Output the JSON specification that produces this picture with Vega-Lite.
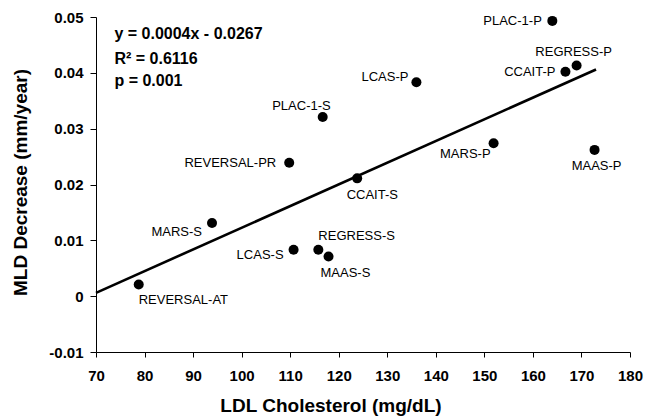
{
  "$schema": "https://vega.github.io/schema/vega-lite/v6.json",
  "width": 534,
  "height": 335,
  "autosize": {"type": "none"},
  "padding": {"left": 96, "top": 17, "right": 15, "bottom": 64},
  "background": "white",
  "config": {
    "view": {"stroke": null},
    "font": "Liberation Sans",
    "axis": {
      "grid": false,
      "domainColor": "#000000",
      "domainWidth": 1,
      "tickColor": "#000000",
      "tickWidth": 1,
      "labelFont": "Liberation Sans",
      "labelFontWeight": "bold",
      "labelFontSize": 15,
      "labelColor": "#000000",
      "titleFont": "Liberation Sans",
      "titleFontWeight": "bold",
      "titleFontSize": 19,
      "titleColor": "#000000"
    }
  },
  "datasets": {
    "studies": [
      {"study": "REVERSAL-AT", "ldl": 78.8, "mld": 0.0021},
      {"study": "MARS-S", "ldl": 93.9, "mld": 0.0131},
      {"study": "LCAS-S", "ldl": 110.7, "mld": 0.0083},
      {"study": "REGRESS-S", "ldl": 115.8, "mld": 0.0083},
      {"study": "MAAS-S", "ldl": 117.9, "mld": 0.0071},
      {"study": "PLAC-1-S", "ldl": 116.7, "mld": 0.0321},
      {"study": "REVERSAL-PR", "ldl": 109.8, "mld": 0.0239},
      {"study": "CCAIT-S", "ldl": 123.8, "mld": 0.0211},
      {"study": "LCAS-P", "ldl": 136.0, "mld": 0.0383},
      {"study": "MARS-P", "ldl": 151.9, "mld": 0.0274},
      {"study": "PLAC-1-P", "ldl": 164.0, "mld": 0.0493},
      {"study": "CCAIT-P", "ldl": 166.7, "mld": 0.0402},
      {"study": "REGRESS-P", "ldl": 169.0, "mld": 0.0413},
      {"study": "MAAS-P", "ldl": 172.7, "mld": 0.0262}
    ],
    "fit": [
      {"ldl": 70, "mld": 0.0006},
      {"ldl": 173, "mld": 0.0406}
    ],
    "stats": [
      {"label": "y = 0.0004x - 0.0267", "ldl": 73.8, "mld": 0.0469},
      {"label": "R² = 0.6116", "ldl": 73.8, "mld": 0.0424},
      {"label": "p = 0.001", "ldl": 73.8, "mld": 0.0386}
    ]
  },
  "encoding": {
    "x": {
      "field": "ldl", "type": "quantitative",
      "scale": {"domain": [70, 180], "nice": false, "zero": false},
      "axis": {
        "title": "LDL Cholesterol (mg/dL)",
        "values": [70, 80, 90, 100, 110, 120, 130, 140, 150, 160, 170, 180],
        "tickSize": 5,
        "labelPadding": 11,
        "labelFlush": false,
        "labelOverlap": false,
        "titleX": 234.5,
        "titleY": 59.5,
        "titleAnchor": null,
        "titleAlign": "center",
        "titleBaseline": "alphabetic"
      }
    },
    "y": {
      "field": "mld", "type": "quantitative",
      "scale": {"domain": [-0.01, 0.05], "nice": false, "zero": false},
      "axis": {
        "title": "MLD Decrease (mm/year)",
        "values": [-0.01, 0, 0.01, 0.02, 0.03, 0.04, 0.05],
        "labelExpr": "datum.value === 0 ? '0' : (datum.value < 0 ? '-' + format(-datum.value, '.2f') : format(datum.value, '.2f'))",
        "tickSize": 6,
        "labelPadding": 7,
        "labelFlush": false,
        "labelOverlap": false,
        "titleX": -76,
        "titleY": 165,
        "titleAngle": -90,
        "titleAlign": "center",
        "titleBaseline": "middle"
      }
    }
  },
  "layer": [
    {
      "data": {"name": "fit"},
      "mark": {"type": "line", "color": "#000000", "strokeWidth": 2.6},
      "encoding": {}
    },
    {
      "data": {"name": "studies"},
      "mark": {"type": "circle", "color": "#000000", "opacity": 1, "size": 100}
    },
    {
      "data": {"name": "stats"},
      "mark": {"type": "text", "align": "left", "baseline": "middle", "fontSize": 16, "fontWeight": "bold", "font": "Liberation Sans", "color": "#000000"},
      "encoding": {"text": {"field": "label"}}
    },
    {
      "data": {"name": "studies"},
      "transform": [{"filter": "datum.study === 'PLAC-1-P'"}],
      "mark": {"type": "text", "align": "right", "baseline": "middle", "dx": -10.5, "dy": 0, "fontSize": 13, "color": "#000000"},
      "encoding": {"text": {"field": "study"}}
    },
    {
      "data": {"name": "studies"},
      "transform": [{"filter": "datum.study === 'REGRESS-P'"}],
      "mark": {"type": "text", "align": "center", "baseline": "middle", "dx": -3, "dy": -14, "fontSize": 13, "color": "#000000"},
      "encoding": {"text": {"field": "study"}}
    },
    {
      "data": {"name": "studies"},
      "transform": [{"filter": "datum.study === 'CCAIT-P'"}],
      "mark": {"type": "text", "align": "right", "baseline": "middle", "dx": -10, "dy": 0, "fontSize": 13, "color": "#000000"},
      "encoding": {"text": {"field": "study"}}
    },
    {
      "data": {"name": "studies"},
      "transform": [{"filter": "datum.study === 'LCAS-P'"}],
      "mark": {"type": "text", "align": "right", "baseline": "middle", "dx": -8, "dy": -5, "fontSize": 13, "color": "#000000"},
      "encoding": {"text": {"field": "study"}}
    },
    {
      "data": {"name": "studies"},
      "transform": [{"filter": "datum.study === 'MARS-P'"}],
      "mark": {"type": "text", "align": "right", "baseline": "middle", "dx": -3, "dy": 11, "fontSize": 13, "color": "#000000"},
      "encoding": {"text": {"field": "study"}}
    },
    {
      "data": {"name": "studies"},
      "transform": [{"filter": "datum.study === 'MAAS-P'"}],
      "mark": {"type": "text", "align": "center", "baseline": "middle", "dx": 2, "dy": 16, "fontSize": 13, "color": "#000000"},
      "encoding": {"text": {"field": "study"}}
    },
    {
      "data": {"name": "studies"},
      "transform": [{"filter": "datum.study === 'CCAIT-S'"}],
      "mark": {"type": "text", "align": "left", "baseline": "middle", "dx": -10.5, "dy": 17, "fontSize": 13, "color": "#000000"},
      "encoding": {"text": {"field": "study"}}
    },
    {
      "data": {"name": "studies"},
      "transform": [{"filter": "datum.study === 'PLAC-1-S'"}],
      "mark": {"type": "text", "align": "right", "baseline": "middle", "dx": 8, "dy": -11, "fontSize": 13, "color": "#000000"},
      "encoding": {"text": {"field": "study"}}
    },
    {
      "data": {"name": "studies"},
      "transform": [{"filter": "datum.study === 'REVERSAL-PR'"}],
      "mark": {"type": "text", "align": "right", "baseline": "middle", "dx": -13, "dy": 0, "fontSize": 13, "color": "#000000"},
      "encoding": {"text": {"field": "study"}}
    },
    {
      "data": {"name": "studies"},
      "transform": [{"filter": "datum.study === 'MARS-S'"}],
      "mark": {"type": "text", "align": "right", "baseline": "middle", "dx": -10, "dy": 9, "fontSize": 13, "color": "#000000"},
      "encoding": {"text": {"field": "study"}}
    },
    {
      "data": {"name": "studies"},
      "transform": [{"filter": "datum.study === 'LCAS-S'"}],
      "mark": {"type": "text", "align": "right", "baseline": "middle", "dx": -10, "dy": 5, "fontSize": 13, "color": "#000000"},
      "encoding": {"text": {"field": "study"}}
    },
    {
      "data": {"name": "studies"},
      "transform": [{"filter": "datum.study === 'REGRESS-S'"}],
      "mark": {"type": "text", "align": "left", "baseline": "middle", "dx": 0, "dy": -14, "fontSize": 13, "color": "#000000"},
      "encoding": {"text": {"field": "study"}}
    },
    {
      "data": {"name": "studies"},
      "transform": [{"filter": "datum.study === 'MAAS-S'"}],
      "mark": {"type": "text", "align": "left", "baseline": "middle", "dx": -8, "dy": 16, "fontSize": 13, "color": "#000000"},
      "encoding": {"text": {"field": "study"}}
    },
    {
      "data": {"name": "studies"},
      "transform": [{"filter": "datum.study === 'REVERSAL-AT'"}],
      "mark": {"type": "text", "align": "left", "baseline": "middle", "dx": 0, "dy": 16, "fontSize": 13, "color": "#000000"},
      "encoding": {"text": {"field": "study"}}
    }
  ]
}
